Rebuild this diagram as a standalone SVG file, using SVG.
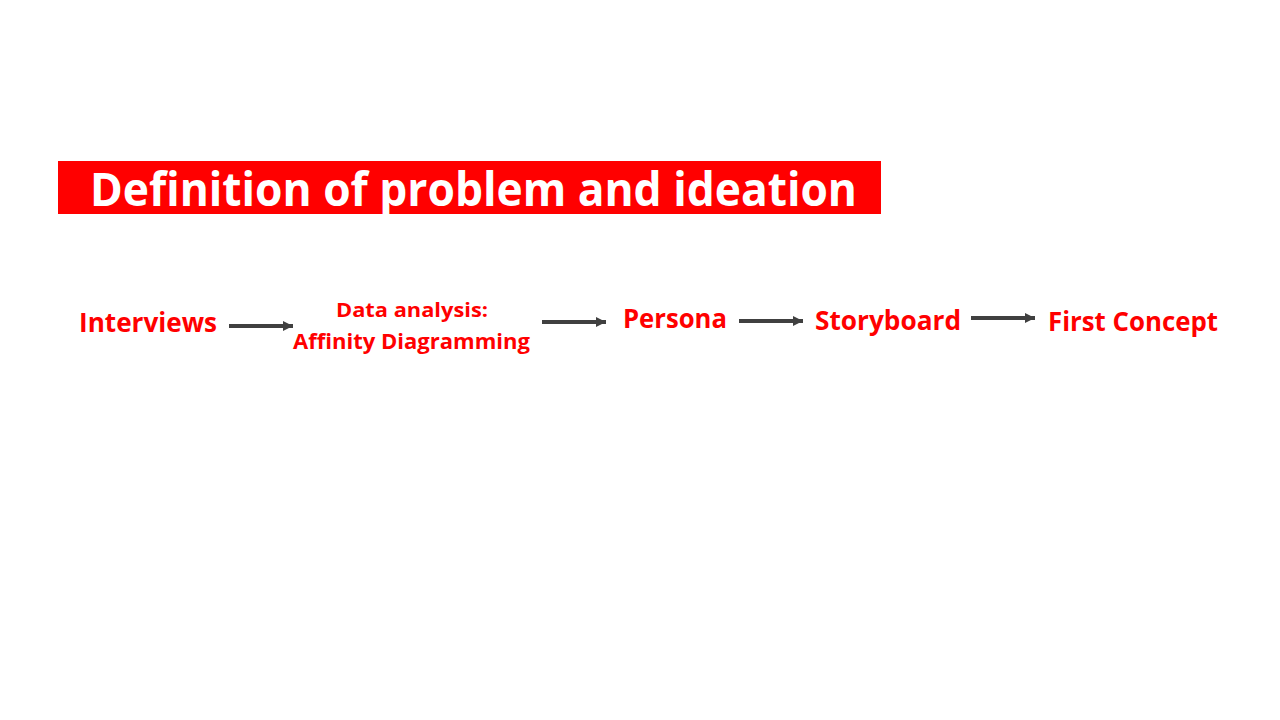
<svg xmlns="http://www.w3.org/2000/svg" width="1280" height="720" viewBox="0 0 1280 720">
  <defs>
    <marker id="head" markerWidth="10" markerHeight="10" refX="10" refY="5" orient="auto" markerUnits="userSpaceOnUse">
      <path d="M0,0 L10,5 L0,10 Z" fill="#404040"/>
    </marker>
    <style>
      .step { font-family: "Open Sans", "Liberation Sans", sans-serif; font-weight: 700; fill: #FF0000; }
      .title { font-family: "Open Sans", "Liberation Sans", sans-serif; font-weight: 700; fill: #FFFFFF; font-size: 47px; }
      .link { stroke: #404040; stroke-width: 4; fill: none; marker-end: url(#head); }
    </style>
  </defs>
  <rect width="1280" height="720" fill="#FFFFFF"/>

  <!-- heading banner -->
  <g id="title">
    <rect x="58" y="161" width="823" height="53" fill="#FF0000"/>
    <text class="title" x="90" y="206" textLength="767" lengthAdjust="spacingAndGlyphs">Definition of problem and ideation</text>
  </g>

  <!-- process steps -->
  <g id="interviews">
    <text class="step" x="79" y="332" font-size="26.5" textLength="138" lengthAdjust="spacingAndGlyphs">Interviews</text>
  </g>
  <g id="data-analysis">
    <text class="step" x="336" y="317" font-size="20" textLength="152" lengthAdjust="spacingAndGlyphs">Data analysis:</text>
    <text class="step" x="293" y="349" font-size="21" textLength="237" lengthAdjust="spacingAndGlyphs">Affinity Diagramming</text>
  </g>
  <g id="persona">
    <text class="step" x="623" y="328" font-size="26.5" textLength="104" lengthAdjust="spacingAndGlyphs">Persona</text>
  </g>
  <g id="storyboard">
    <text class="step" x="815" y="330" font-size="26.5" textLength="146" lengthAdjust="spacingAndGlyphs">Storyboard</text>
  </g>
  <g id="first-concept">
    <text class="step" x="1048" y="331" font-size="26.5" textLength="170" lengthAdjust="spacingAndGlyphs">First Concept</text>
  </g>

  <!-- connectors -->
  <g id="connectors">
    <line class="link" x1="229" y1="326" x2="293" y2="326"/>
    <line class="link" x1="542" y1="322" x2="606" y2="322"/>
    <line class="link" x1="739" y1="321" x2="803" y2="321"/>
    <line class="link" x1="971" y1="318" x2="1035" y2="318"/>
  </g>
</svg>
